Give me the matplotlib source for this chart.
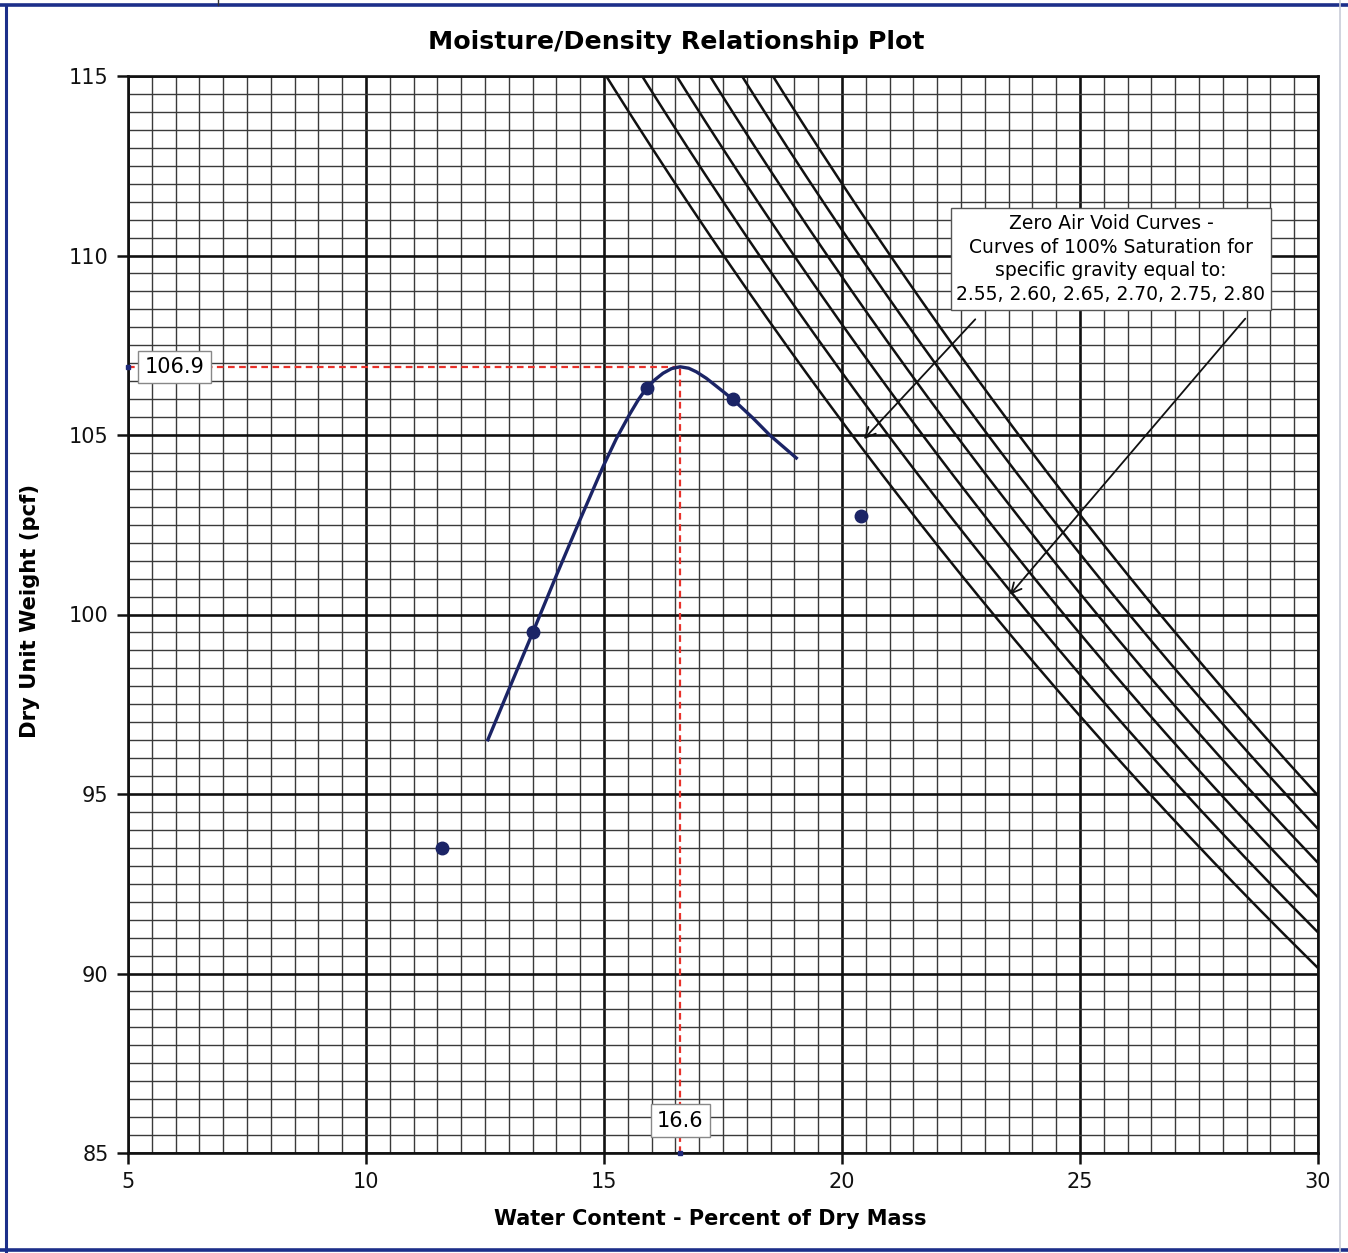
import numpy as np
import matplotlib.pyplot as plt
from matplotlib.lines import Line2D
from matplotlib.ticker import MultipleLocator

# Proctor test points (water content %, dry unit weight pcf)
water_content = [11.6, 13.5, 15.9, 17.7, 20.4]
dry_unit_weight = [93.5, 99.5, 106.3, 106.0, 102.75]

# Fitted compaction curve, read along its length
curve_w = [12.56, 13.02, 13.51, 14.00, 14.49, 14.98, 15.26, 15.54, 15.72, 15.89,
           16.06, 16.24, 16.42, 16.6, 16.78, 16.94, 17.15, 17.36, 17.55, 17.75,
           18.13, 18.48, 19.04]
curve_gd = [96.51, 97.97, 99.52, 101.09, 102.62, 104.12, 104.90, 105.58, 105.98, 106.30,
            106.53, 106.72, 106.85, 106.9, 106.86, 106.76, 106.58, 106.36, 106.16, 105.94,
            105.47, 105.00, 104.36]

# Optimum moisture / maximum dry density
opt_w = 16.6
max_gd = 106.9

# Zero air void curves
spec_gravity = [2.55, 2.60, 2.65, 2.70, 2.75, 2.80]
gamma_w = 62.4

fig = plt.figure(figsize=(13.48, 12.53), dpi=100)
ax = fig.add_axes([128 / 1348, 1 - 1153 / 1253, 1190 / 1348, 1077 / 1253])

ax.set_xlim(5, 30)
ax.set_ylim(85, 115)
ax.xaxis.set_major_locator(MultipleLocator(5))
ax.yaxis.set_major_locator(MultipleLocator(5))
ax.xaxis.set_minor_locator(MultipleLocator(0.5))
ax.yaxis.set_minor_locator(MultipleLocator(0.5))
ax.grid(which='minor', color='#3a3a3a', linewidth=1.0)
ax.grid(which='major', color='#111111', linewidth=1.9)
ax.set_axisbelow(True)
ax.tick_params(which='major', direction='out', length=8, width=1.8,
               labelsize=15, pad=6, colors='#111111')
ax.tick_params(which='minor', length=0)
for s in ax.spines.values():
    s.set_linewidth(1.9)
    s.set_color('#111111')

# ZAV lines for each specific gravity
w = np.linspace(0.10, 0.30, 200)
for gs in spec_gravity:
    gd = gs * gamma_w / (1 + w * gs)
    ax.plot(w * 100, gd, color='#111111', linewidth=1.8, zorder=3)

# optimum markers
ax.plot([5, opt_w], [max_gd, max_gd], color='#e8312a', linestyle=(0, (3, 2)),
        linewidth=1.6, zorder=4)
ax.plot([opt_w, opt_w], [85, max_gd], color='#e8312a', linestyle=(0, (3, 2)),
        linewidth=1.6, zorder=4)
ax.plot([5], [max_gd], marker='s', color='#1f2a7a', markersize=3, clip_on=False, zorder=6)
ax.plot([opt_w], [85], marker='s', color='#1f2a7a', markersize=3, clip_on=False, zorder=6)

ax.plot(curve_w, curve_gd, color='#1b2466', linewidth=2.4, zorder=5,
        solid_joinstyle='round')
ax.plot(water_content, dry_unit_weight, 'o', color='#1b2466', markersize=9, zorder=6)

box = dict(boxstyle='square,pad=0.3', facecolor='white', edgecolor='#888888', linewidth=1.0)
ax.text(5.98, max_gd, f'{max_gd}', fontsize=15, ha='center', va='center',
        bbox=box, zorder=7)
ax.text(opt_w, 85.9, f'{opt_w}', fontsize=15, ha='center', va='center',
        bbox=box, zorder=7)

ax.text(25.65, 109.9, 'Zero Air Void Curves -\nCurves of 100% Saturation for\n'
        'specific gravity equal to:\n2.55, 2.60, 2.65, 2.70, 2.75, 2.80',
        fontsize=13.5, ha='center', va='center', linespacing=1.32, zorder=8,
        bbox=dict(boxstyle='square,pad=0.3', facecolor='white',
                  edgecolor='#555555', linewidth=1.0))
arrow = dict(arrowstyle='->', color='#111111', linewidth=1.3, mutation_scale=18)
ax.annotate('', xy=(20.42, 104.83), xytext=(22.84, 108.28), arrowprops=arrow, zorder=8)
ax.annotate('', xy=(23.49, 100.49), xytext=(28.51, 108.30), arrowprops=arrow, zorder=8)

fig.text(0.5015, 1 - 42 / 1253, 'Moisture/Density Relationship Plot',
         fontsize=18.2, fontweight='bold', ha='center', va='center')
fig.text(710 / 1348, 1 - 1219 / 1253, 'Water Content - Percent of Dry Mass',
         fontsize=15, fontweight='bold', ha='center', va='center')
fig.text(30 / 1348, 1 - 611 / 1253, 'Dry Unit Weight (pcf)',
         fontsize=15.2, fontweight='bold', ha='center', va='center', rotation=90)

# sheet frame
frame = '#1c2f8a'
fig.add_artist(Line2D([6 / 1348, 6 / 1348], [0, 1 - 5 / 1253], color=frame, linewidth=2.2))
fig.add_artist(Line2D([0, 1], [1 - 5 / 1253, 1 - 5 / 1253], color=frame, linewidth=2.6))
fig.add_artist(Line2D([0, 1], [3 / 1253, 3 / 1253], color=frame, linewidth=2.6))
fig.add_artist(Line2D([1340 / 1348, 1340 / 1348], [0, 1], color='#c8ccd8', linewidth=1.2))
fig.add_artist(Line2D([218 / 1348, 218 / 1348], [1 - 5 / 1253, 1], color='#333333', linewidth=1.0))

fig.savefig('out.png', dpi=100)
